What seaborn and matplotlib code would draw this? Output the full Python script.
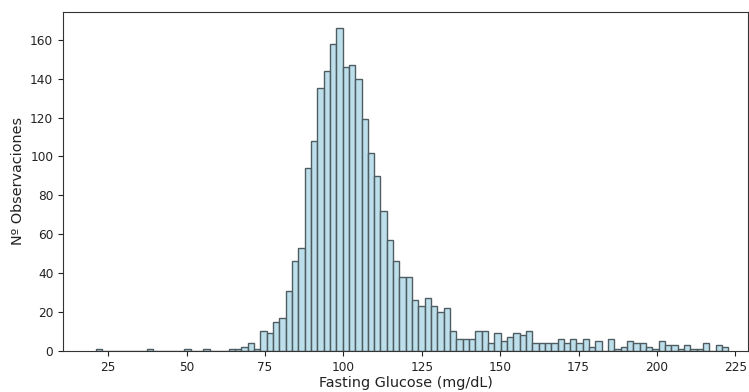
import numpy as np
import pandas as pd
import matplotlib
matplotlib.use("Agg")
import matplotlib.pyplot as plt
import seaborn as sns

# Histogram bin layout (100 bins)
bin_start = 21.1
bin_width = 2.016

# Counts per bin
counts = [
    1, 0, 0, 0, 0, 0, 0, 0, 1, 0,
    0, 0, 0, 0, 1, 0, 0, 1, 0, 0,
    0, 1, 1, 2, 4, 1, 10, 9, 15, 17,
    31, 46, 53, 94, 108, 135, 144, 158, 166, 146,
    147, 140, 119, 102, 90, 72, 57, 46, 38, 38,
    26, 23, 27, 23, 20, 22, 10, 6, 6, 6,
    10, 10, 4, 9, 5, 7, 9, 8, 10, 4,
    4, 4, 4, 6, 4, 6, 4, 6, 2, 5,
    0, 6, 1, 2, 5, 4, 4, 2, 1, 5,
    3, 3, 1, 3, 1, 1, 4, 0, 3, 2,
]

x_ticks = [25, 50, 75, 100, 125, 150, 175, 200, 225]
y_ticks = [0, 20, 40, 60, 80, 100, 120, 140, 160]
x_label = "Fasting Glucose (mg/dL)"
y_label = "Nº Observaciones"

n = len(counts)
edges = (bin_start + bin_width * np.arange(n + 1)).tolist()
centers = [(edges[i] + edges[i + 1]) / 2 for i in range(n)]
df = pd.DataFrame({"glucose": centers, "count": counts})

fig = plt.figure(figsize=(7.49, 3.92), dpi=100)
ax = fig.add_axes([63 / 749, 1 - 350.8 / 392, (748 - 63) / 749, (350.8 - 12) / 392])

sns.histplot(data=df, x="glucose", weights="count", bins=edges, color="#add8e6",
             edgecolor="#4f5c61", alpha=0.8, linewidth=1.0, ax=ax)

ax.set_xlim(10.6, 229.0)
ax.set_ylim(0, 174.3)
ax.set_xticks(x_ticks)
ax.set_yticks(y_ticks)
ax.tick_params(labelsize=8.7, colors="#222222")
ax.set_xlabel(x_label, fontsize=10.4, labelpad=2, color="#222222")
ax.set_ylabel(y_label, fontsize=10.4, color="#222222")
for s in ax.spines.values():
    s.set_color("#333333")

fig.savefig("out.png", dpi=100)
